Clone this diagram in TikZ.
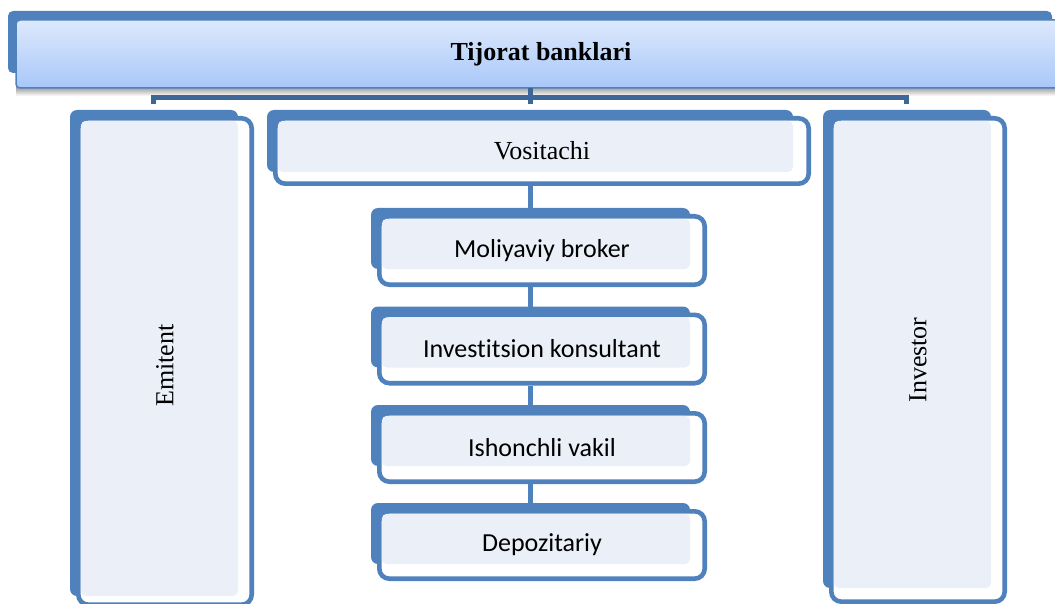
\documentclass[tikz,border=0pt]{standalone}
\usepackage{fontspec}
\usepackage{graphicx}
\setmainfont{Liberation Serif}
\newfontfamily\boxsans[Ligatures=NoCommon]{Carlito}
\definecolor{backblue}{RGB}{79,129,189}
\definecolor{lightfill}{RGB}{235,240,248}
\definecolor{bardark}{RGB}{60,103,150}
\definecolor{gradtop}{RGB}{221,233,252}
\definecolor{gradbot}{RGB}{168,199,249}
\tikzset{
  boxtext/.style={inner sep=0pt, outer sep=0pt, align=center},
  serifbig/.style={font=\fontsize{26}{31}\selectfont},
  sansbig/.style={font=\boxsans\fontsize{26}{31}\selectfont},
  topbox/.style={draw=backblue, line width=1.5pt, top color=gradtop, bottom color=gradbot,
    rounded corners=4pt, inner sep=0pt, outer sep=0pt},
  spine/.style={backblue, line width=5pt},
  hubline/.style={bardark, line width=5pt, line join=miter}
}
% A box made of a solid blue plate behind and an outlined card in front.
% #1 name, #2..#5 plate corners, #6 #7 outer lower-right corner of the card,
% #8 text, #9 text style
\newcommand{\twinbox}[9]{%
  \fill[backblue, rounded corners=7pt] (#2,#3) rectangle (#4,#5);
  \draw[backblue, line width=4.6pt, fill=white, rounded corners=10pt]
    (#2+8.3,#3+8.3) rectangle (#6-2.3,#7-2.3);
  \fill[lightfill, rounded corners=5pt] (#2+10.8,#3+10.8) rectangle (#4,#5);
  \node[boxtext, #9, minimum width={#6-#2-6}, minimum height={#7-#3-6}]
    (#1) at ({(#2+6+#6)/2},{(#3+6+#7)/2}) {#8};
}
\begin{document}
\begin{tikzpicture}[x=1pt, y=-1pt]
\useasboundingbox (0,0) rectangle (1055,604);

% banner across the top
\fill[backblue, rounded corners=5pt] (8,11) rectangle (1052,73);
\shade[top color=black!40, bottom color=white] (16,87) rectangle (1055,96);
\node[topbox, minimum width=1050, minimum height=68, serifbig] (bank) at (541,54)
  {\bfseries Tijorat banklari};

% side and middle boxes
\twinbox{emit}{70}{110}{238}{596}{254}{607}{\rotatebox{90}{Emitent}}{serifbig, yshift=-4pt}
\twinbox{inv}{823}{110}{991}{588}{1007}{604}{\rotatebox{90}{Investor}}{serifbig}
\twinbox{vosit}{267}{110}{793}{172}{811}{186}{Vositachi}{serifbig}
\twinbox{broker}{371}{208}{690}{269}{707}{287}{Moliyaviy broker}{sansbig}
\twinbox{konsul}{371}{306.5}{690}{367.5}{707}{385.5}{Investitsion konsultant}{sansbig}
\twinbox{vakil}{371}{405}{690}{466}{707}{484}{Ishonchli vakil}{sansbig}
\twinbox{depo}{371}{503}{690}{564}{707}{581}{Depozitariy}{sansbig}

% connectors
\coordinate (axis) at (530.5,0);
\coordinate (barL) at (153.5,97.5);
\coordinate (barR) at (906.5,97.5);
\coordinate (tickL) at (153.5,104);
\coordinate (tickR) at (906.5,104);
\coordinate (tickC) at (530.5,104);
\draw[hubline] (tickL) -- (barL) -- (barR) -- (tickR);
\draw[hubline] (bank.south -| axis) -- (tickC);
\draw[spine] (vosit.south -| axis) -- (broker.north -| axis);
\draw[spine] (broker.south -| axis) -- (konsul.north -| axis);
\draw[spine] (konsul.south -| axis) -- (vakil.north -| axis);
\draw[spine] (vakil.south -| axis) -- (depo.north -| axis);
\end{tikzpicture}
\end{document}
